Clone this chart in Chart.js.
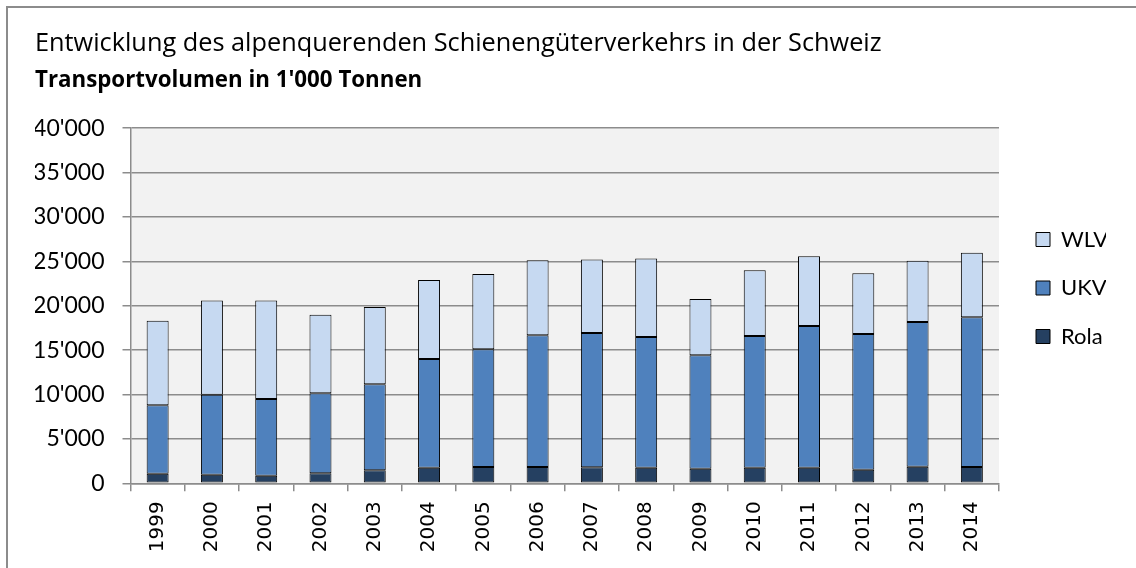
<!DOCTYPE html>
<html>
<head>
<meta charset="utf-8">
<script src="https://cdn.jsdelivr.net/npm/chart.js@4.4.0/dist/chart.umd.min.js"></script>
<style>
  html, body { margin: 0; padding: 0; background: #ffffff; overflow: hidden; }
  #frame { position: absolute; left: 6px; top: 6px; width: 1300px; height: 800px;
           border-left: 2px solid #8c8c8c; border-top: 2px solid #8c8c8c; }
  #wrap { position: absolute; left: 0; top: 0; width: 1136px; height: 568px; }
</style>
</head>
<body>
<div id="frame"></div>
<div id="wrap"><canvas id="c" width="1136" height="568"></canvas></div>
<script>
// ---- data (in 1'000 tonnes) ----
const years = ['1999','2000','2001','2002','2003','2004','2005','2006','2007','2008','2009','2010','2011','2012','2013','2014'];
const rola = [1080, 970, 860, 1130, 1460, 1760, 1840, 1840, 1800, 1760, 1650, 1760, 1760, 1540, 1870, 1840];
const ukv  = [7710, 9010, 8640, 9010, 9690, 12240, 13260, 14840, 15130, 14720, 12770, 14840, 15960, 15280, 16300, 16860];
const wlv  = [9530, 10600, 11080, 8860, 8710, 8900, 8480, 8440, 8270, 8830, 6350, 7400, 7860, 6840, 6910, 7280];
const yTicks = [0, 5000, 10000, 15000, 20000, 25000, 30000, 35000, 40000];
const titleText = 'Entwicklung des alpenquerenden Schienengüterverkehrs in der Schweiz';
const subtitleText = "Transportvolumen in 1'000 Tonnen";

const fmt = v => {
  const s = String(Math.round(v));
  return s.replace(/\B(?=(\d{3})+(?!\d))/g, "'");
};

const plotBg = {
  id: 'plotBg',
  beforeDraw(chart) {
    const a = chart.chartArea, ctx = chart.ctx;
    ctx.save();
    ctx.fillStyle = '#f2f2f2';
    ctx.fillRect(a.left, a.top, a.right - a.left, a.bottom - a.top);
    ctx.restore();
  }
};

new Chart(document.getElementById('c'), {
  type: 'bar',
  data: {
    labels: years,
    datasets: [
      { label: 'Rola', data: rola, backgroundColor: '#254061', borderColor: '#000000', borderWidth: 1, borderSkipped: false },
      { label: 'UKV', data: ukv, backgroundColor: '#4f81bd', borderColor: '#000000', borderWidth: 1, borderSkipped: false },
      { label: 'WLV', data: wlv, backgroundColor: '#c6d9f1', borderColor: '#000000', borderWidth: 1, borderSkipped: false }
    ]
  },
  options: {
    responsive: false,
    animation: false,
    devicePixelRatio: 1,
    layout: { padding: { left: 35, top: 8, right: 30, bottom: 0 } },
    datasets: { bar: { categoryPercentage: 1.0, barPercentage: 0.405 } },
    plugins: {
      title: {
        display: true, text: titleText, align: 'start', color: '#000',
        font: { family: 'Open Sans', size: 25.3, weight: 'normal', lineHeight: 1.2 },
        padding: { top: 20.5, bottom: 4 }
      },
      subtitle: {
        display: true, text: subtitleText, align: 'start', color: '#000',
        font: { family: 'Open Sans', size: 22.3, weight: 'bold', lineHeight: 1.2 },
        padding: { top: 4.2, bottom: 34.4 }
      },
      legend: {
        position: 'right', reverse: true, align: 'center', maxWidth: 96.5,
        labels: {
          color: '#000', boxWidth: 14, boxHeight: 14, padding: 26.5,
          font: { family: 'Lato', size: 22 }
        }
      },
      tooltip: { enabled: false }
    },
    scales: {
      x: {
        stacked: true,
        grid: { display: true, drawOnChartArea: false, drawTicks: true, tickLength: 8, color: '#8c8c8c', lineWidth: 1.5, offset: true },
        border: { display: true, color: '#8c8c8c', width: 1.5 },
        ticks: { color: '#000', autoSkip: false, maxRotation: 90, minRotation: 90, padding: 10,
                 font: { family: 'DejaVu Sans', size: 20 } },
        afterFit(s) { s.height = 84.7; }
      },
      y: {
        stacked: true, min: 0, max: 40000,
        afterBuildTicks(s) { s.ticks = yTicks.map(v => ({ value: v })); },
        grid: { color: '#8c8c8c', lineWidth: 1.5, tickLength: 8, drawTicks: true },
        border: { display: true, color: '#8c8c8c', width: 1.5 },
        ticks: { color: '#000', padding: 18, callback: v => fmt(v),
                 font: { family: 'Lato', size: 23 } },
        afterFit(s) { s.width = 95.5; }
      },
      y2: {
        type: 'linear', position: 'right', display: true,
        grid: { display: false, drawTicks: false },
        border: { display: false },
        ticks: { display: false },
        afterFit(s) { s.width = 10.5; }
      }
    }
  },
  plugins: [plotBg]
});
</script>
</body>
</html>
